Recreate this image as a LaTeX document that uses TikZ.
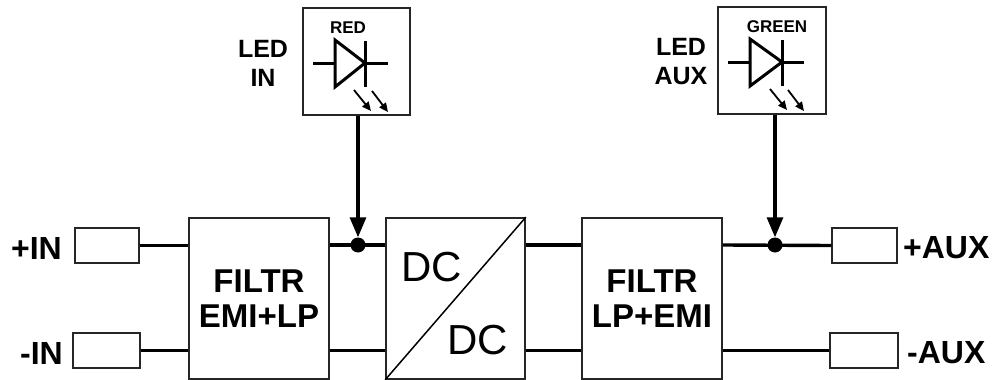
\documentclass[tikz,border=0pt]{standalone}
\usepackage{fontspec}
\setmainfont{Liberation Sans}
\usetikzlibrary{arrows.meta}
\begin{document}
\begin{tikzpicture}[x=1pt,y=-1pt,
  blk/.style={draw=black!85,line width=1.7pt,fill=white},
  term/.style={draw=black!85,line width=1.5pt,fill=white},
  wire/.style={line width=3.4pt},
  lbl/.style={font=\fontsize{32}{34}\bfseries\selectfont,inner sep=0pt},
  ledlbl/.style={font=\fontsize{25}{29}\bfseries\selectfont,inner sep=0pt,align=center},
  colr/.style={font=\fontsize{17}{18}\bfseries\selectfont,inner sep=0pt},
  dclbl/.style={font=\fontsize{42}{44}\selectfont,inner sep=0pt},
  dot/.style={circle,fill=black,inner sep=0pt,minimum size=15pt},
  arr/.style={line width=3.2pt,-{Triangle[length=20pt,width=16pt]}},
  emit/.style={line width=1.8pt,-{Triangle[length=9pt,width=8pt]}},
  diode/.style={line width=3pt}
]
\useasboundingbox (0,0) rectangle (997,380);

% terminals
\node[term,minimum width=64pt,minimum height=35pt,inner sep=0pt] (tinp) at (107,245.5) {};
\node[term,minimum width=67pt,minimum height=35pt,inner sep=0pt] (tinm) at (106.5,350.5) {};
\node[term,minimum width=65pt,minimum height=35pt,inner sep=0pt] (tauxp) at (864.5,245.5) {};
\node[term,minimum width=68pt,minimum height=35pt,inner sep=0pt] (tauxm) at (864,350.5) {};

\node[lbl,anchor=east] (linp) at (62,248) {+IN};
\node[lbl,anchor=east] (linm) at (63,353) {-IN};
\node[lbl,anchor=west] (lauxp) at (903,248) {+AUX};
\node[lbl,anchor=west] (lauxm) at (907,353) {-AUX};

% blocks
\node[blk,minimum width=140pt,minimum height=161pt,inner sep=0pt] (f1) at (259,298.5) {};
\node[blk,minimum width=139pt,minimum height=161pt,inner sep=0pt] (dc) at (455.5,298.5) {};
\node[blk,minimum width=140pt,minimum height=161pt,inner sep=0pt] (f2) at (652,298.5) {};

\node[lbl,align=center,font=\fontsize{33}{35}\bfseries\selectfont] (f1t) at (f1.center) {FILTR\\EMI+LP};
\node[lbl,align=center,font=\fontsize{33}{35}\bfseries\selectfont] (f2t) at (f2.center) {FILTR\\LP+EMI};
\draw[line width=1.5pt] (dc.south west) -- (dc.north east);
\node[dclbl] (dc1) at (432,267) {DC};
\node[dclbl] (dc2) at (478,340) {DC};

% wires
\coordinate (j1) at (358,245);
\coordinate (j2) at (775,245);
\draw[wire] (tinp.east) -- (tinp.east -| f1.west);
\draw[wire] (tinm.east) -- (tinm.east -| f1.west);
\draw[wire] (f1.east |- j1) -- (dc.west |- j1);
\draw[wire] (f1.east |- tinm.east) -- (dc.west |- tinm.east);
\draw[wire] (dc.east |- j1) -- (f2.west |- j1);
\draw[wire] (dc.east |- tinm.east) -- (f2.west |- tinm.east);
\draw[wire] (f2.east |- j2) -- (tauxp.west);
\draw[wire] (f2.east |- tauxm.west) -- (tauxm.west);
\node[dot] (d1) at (j1) {};
\node[dot] (d2) at (j2) {};

% LED boxes
\node[blk,minimum width=107pt,minimum height=107pt,inner sep=0pt] (led1) at (356.5,61.5) {};
\node[blk,minimum width=108pt,minimum height=107pt,inner sep=0pt] (led2) at (772,60.5) {};
\node[ledlbl] (led1t) at (263,63) {LED\\IN};
\node[ledlbl] (led2t) at (681,62) {LED\\AUX};
\node[colr] (red) at (348,27.5) {RED};
\node[colr] (green) at (777,26.5) {GREEN};

% diode 1
\draw[diode] (313,63) -- (388,63);
\draw[diode,fill=white,line join=miter] (335,40) -- (365,63) -- (335,87) -- cycle;
\draw[diode] (365,41) -- (365,87);
\draw[emit] (354,90) -- (371,111);
\draw[emit] (372,91) -- (388,112);
% diode 2
\draw[diode] (728,62) -- (804,62);
\draw[diode,fill=white,line join=miter] (750,39) -- (782,62) -- (750,86) -- cycle;
\draw[diode] (782,40) -- (782,86);
\draw[emit] (770,89) -- (787,110);
\draw[emit] (788,90) -- (804,111);

% arrows
\draw[arr] (led1.south -| d1) -- (d1.north);
\draw[arr] (led2.south -| d2) -- (d2.north);
\end{tikzpicture}
\end{document}
